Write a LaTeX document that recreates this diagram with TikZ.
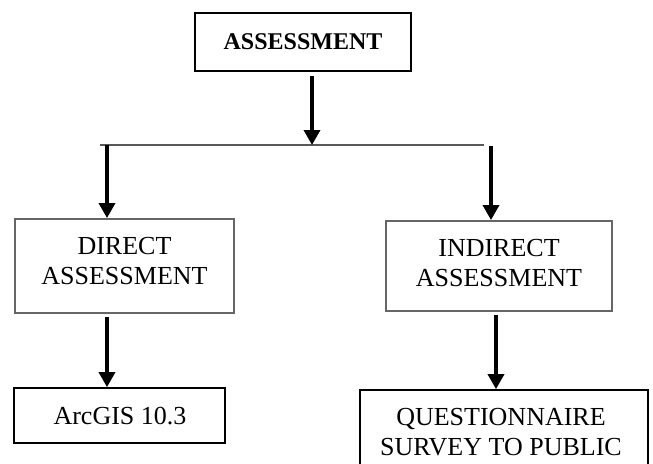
\documentclass[tikz,border=0pt]{standalone}
\usepackage{fontspec}
\setmainfont{Liberation Serif}
\usetikzlibrary{arrows.meta}
\begin{document}
\begin{tikzpicture}[x=1pt,y=-1pt,
  boxk/.style={draw=black,line width=1.7pt,inner sep=0pt,rectangle},
  boxg/.style={draw=black!60,line width=1.9pt,inner sep=0pt,rectangle},
  txt/.style={inner sep=0pt,align=center,anchor=base,font=\fontsize{26}{30.5}\selectfont},
  arr/.style={line width=3.4pt,-{Triangle[length=15pt,width=16pt]}},
  bar/.style={draw=black!65,line width=2.2pt}]
\clip (0,0) rectangle (653,463);
\fill[white] (0,0) rectangle (653,463);
% boxes
\node[boxk,minimum width=216pt,minimum height=58pt] (top) at (303,42) {};
\node[boxg,minimum width=219pt,minimum height=94pt] (dbox) at (124.5,266) {};
\node[boxg,minimum width=226pt,minimum height=90pt] (ibox) at (499,266) {};
\node[boxk,minimum width=211pt,minimum height=55pt] (abox) at (119.5,415.5) {};
\node[boxk,minimum width=288pt,minimum height=100pt] (qbox) at (504,440) {};
% texts (anchor base = last line baseline)
\node[txt,font=\fontsize{24}{28}\selectfont\bfseries] (ttop) at (303,49) {ASSESSMENT};
\node[txt] (tdir) at (124.5,284.5) {DIRECT\\ASSESSMENT};
\node[txt] (tind) at (499,286.5) {INDIRECT\\ASSESSMENT};
\node[txt] (tarc) at (120,424) {ArcGIS 10.3};
\node[txt] (tque) at (501,455.5) {QUESTIONNAIRE\\SURVEY TO PUBLIC};
% bar
\coordinate (bl) at (100,145);
\coordinate (br) at (484,145);
\coordinate (bm) at (312,145);
\coordinate (bdl) at (107,145);
\coordinate (bdr) at (491,146);
\draw[bar] (bl) -- (br);
% connectors
\draw[arr,shorten <=4pt] (top.south -| bm) -- (bm);
\draw[arr] (bdl) -- (dbox.north -| bdl);
\draw[arr] (bdr) -- (ibox.north -| bdr);
\coordinate (ldown) at (107,0);
\coordinate (rdown) at (496,0);
\draw[arr,shorten <=3pt] (dbox.south -| ldown) -- (abox.north -| ldown);
\draw[arr,shorten <=3pt] (ibox.south -| rdown) -- (qbox.north -| rdown);
\end{tikzpicture}
\end{document}
